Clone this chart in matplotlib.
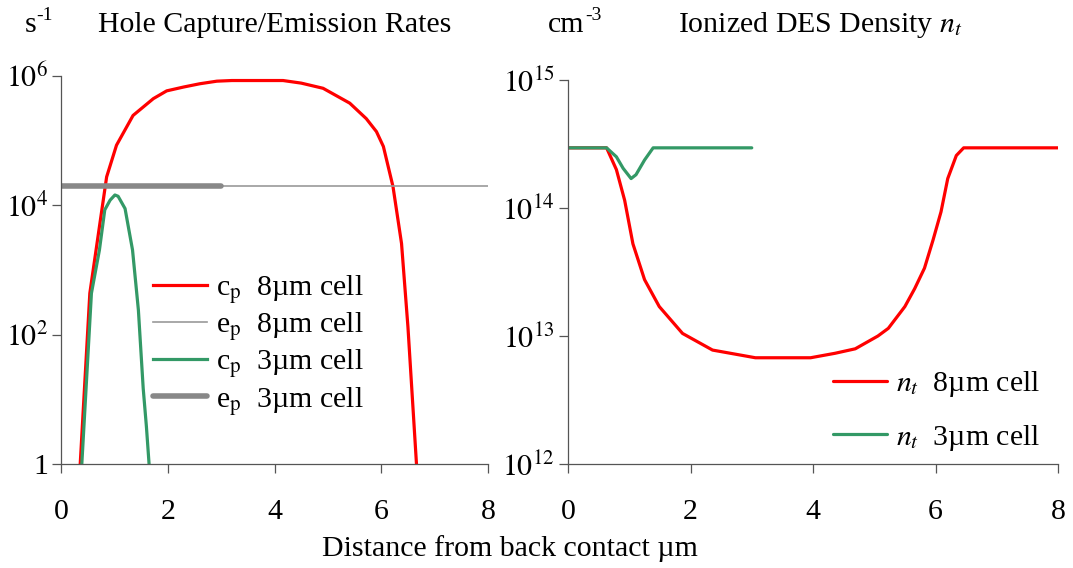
import matplotlib
matplotlib.use('Agg')
import matplotlib.pyplot as plt
import numpy as np

plt.rcParams['font.family'] = ['Liberation Serif', 'DejaVu Serif']
plt.rcParams['mathtext.fontset'] = 'stix'
FS = 21.5

# left panel: hole capture / emission rates (s^-1)
x_cp8 = [0.30, 0.36, 0.54, 0.72, 0.855, 1.04, 1.35, 1.73, 1.98, 2.3, 2.6, 2.92, 3.2, 3.6, 4.16,
         4.5, 4.91, 5.41, 5.72, 5.91, 6.04, 6.22, 6.38, 6.5, 6.66, 6.72]
cp8 = [0.2, 1.0, 10**2.64, 10**3.67, 10**4.44, 10**4.93, 10**5.39, 10**5.65, 10**5.77, 10**5.83,
       10**5.88, 10**5.92, 10**5.93, 10**5.93, 10**5.93, 10**5.89, 10**5.81, 10**5.58, 10**5.34,
       10**5.14, 10**4.91, 10**4.29, 10**3.41, 10**2.12, 1.0, 0.3]

x_ep8 = [0, 8]
ep8 = [2.0e4, 2.0e4]

x_cp3 = [0.35, 0.39, 0.57, 0.72, 0.82, 0.92, 1.01, 1.07, 1.2, 1.34, 1.45, 1.54, 1.6, 1.65, 1.68]
cp3 = [0.2, 1.0, 10**2.64, 10**3.31, 10**3.93, 10**4.08, 10**4.16, 10**4.14, 10**3.95, 10**3.31,
       10**2.38, 10**1.17, 10**0.58, 1.0, 0.3]

x_ep3 = [0, 3]
ep3 = [2.0e4, 2.0e4]

# right panel: ionized DES density n_t (cm^-3)
x_nt8 = [0, 0.63, 0.79, 0.925, 1.06, 1.25, 1.49, 1.87, 2.36, 3.06, 3.96, 4.36, 4.69, 5.06, 5.23,
         5.5, 5.66, 5.82, 5.96, 6.09, 6.2, 6.34, 6.46, 8.0]
nt8 = [10**14.47, 10**14.47, 10**14.30, 10**14.06, 10**13.72, 10**13.44, 10**13.23, 10**13.02,
       10**12.89, 10**12.83, 10**12.83, 10**12.865, 10**12.90, 10**13.0, 10**13.06, 10**13.23,
       10**13.37, 10**13.53, 10**13.75, 10**13.97, 10**14.23, 10**14.41, 10**14.47, 10**14.47]

x_nt3 = [0, 0.63, 0.79, 0.9, 1.03, 1.11, 1.25, 1.39, 3.0]
nt3 = [10**14.47, 10**14.47, 10**14.40, 10**14.31, 10**14.23, 10**14.26, 10**14.375, 10**14.47,
       10**14.47]

RED = '#ff0000'
GREEN = '#339966'
AXC = '#555555'

fig = plt.figure(figsize=(10.73, 5.68), dpi=100)
ax1 = fig.add_axes([61/1073, 1-464/568, (488-61)/1073, (464-76)/568])
ax2 = fig.add_axes([568/1073, 1-464/568, (1058-568)/1073, (464-80)/568])

ax1.plot(x_cp8, cp8, color=RED, lw=2.3, label=r'c$_\mathrm{p}$  8µm cell')
ax1.plot(x_ep8, ep8, color='#999999', lw=1.2, label=r'e$_\mathrm{p}$  8µm cell')
ax1.plot(x_cp3, cp3, color=GREEN, lw=2.3, label=r'c$_\mathrm{p}$  3µm cell')
ax1.plot(x_ep3, ep3, color='#888888', lw=4, solid_capstyle='round', label=r'e$_\mathrm{p}$  3µm cell')
ax1.set_yscale('log')
ax1.set_ylim(1, 1e6)
ax1.set_yticks([1, 1e2, 1e4, 1e6])
ax1.set_yticklabels(['1', r'$10^2$', r'$10^4$', r'$10^6$'])

ax2.plot(x_nt8, nt8, color=RED, lw=2.3, solid_capstyle='round', label=r'$n_t$  8µm cell')
ax2.plot(x_nt3, nt3, color=GREEN, lw=2.3, solid_capstyle='round', label=r'$n_t$  3µm cell')
ax2.set_yscale('log')
ax2.set_ylim(1e12, 1e15)
ax2.set_yticks([1e12, 1e13, 1e14, 1e15])
ax2.set_yticklabels([r'$10^{12}$', r'$10^{13}$', r'$10^{14}$', r'$10^{15}$'])

for ax in (ax1, ax2):
    ax.set_xlim(0, 8)
    ax.set_xticks([0, 2, 4, 6, 8])
    ax.minorticks_off()
    ax.spines['top'].set_visible(False)
    ax.spines['right'].set_visible(False)
    for s in ('left', 'bottom'):
        ax.spines[s].set_linewidth(0.9)
        ax.spines[s].set_color(AXC)
    ax.tick_params(direction='out', length=6.5, width=0.9, color=AXC, labelsize=FS)
    ax.tick_params(axis='x', pad=19)
    ax.tick_params(axis='y', pad=3)

ax1.legend(loc='upper left', bbox_to_anchor=(153/1073, 1-273/568), bbox_transform=fig.transFigure,
           frameon=False, fontsize=FS, handlelength=1.8, handletextpad=0.3, labelspacing=0.14,
           borderpad=0, borderaxespad=0)
ax2.legend(loc='upper left', bbox_to_anchor=(833/1073, 1-369/568), bbox_transform=fig.transFigure,
           frameon=False, fontsize=FS, handlelength=1.8, handletextpad=0.3, labelspacing=0.8,
           borderpad=0, borderaxespad=0)

# panel headers (superscripts drawn as plain text so the hyphen stays a hyphen)
fig.text(25/1073, 1-32/568, 's', ha='left', va='baseline', fontsize=FS)
fig.text(36/1073, 1-20/568, '-1', ha='left', va='baseline', fontsize=14)
fig.text(98/1073, 1-32/568, 'Hole Capture/Emission Rates', ha='left', va='baseline', fontsize=FS)
fig.text(548/1073, 1-32/568, 'cm', ha='left', va='baseline', fontsize=FS)
fig.text(585/1073, 1-20/568, '-3', ha='left', va='baseline', fontsize=14)
fig.text(678/1073, 1-32/568, r'Ionized DES Density $n_t$', ha='left', va='baseline', fontsize=FS)
fig.text(510/1073, 1-556/568, 'Distance from back contact µm', ha='center', va='baseline', fontsize=FS)

fig.savefig('out.png', dpi=100)
